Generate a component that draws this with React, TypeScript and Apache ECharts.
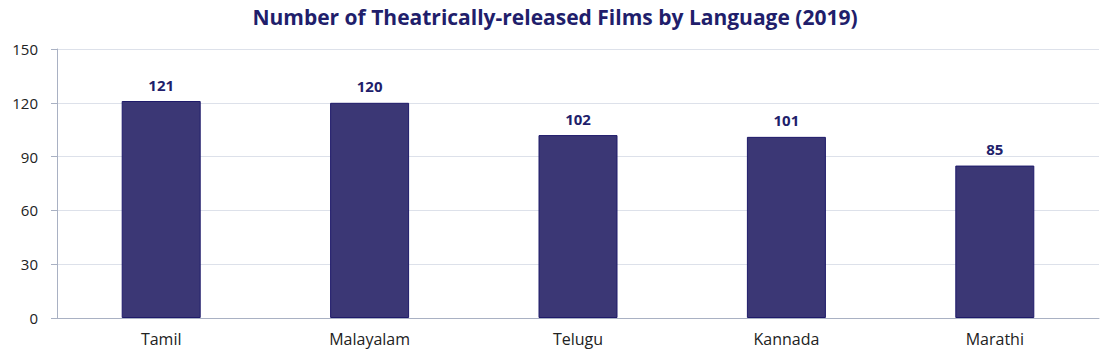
import React, { useEffect, useRef } from "react";
import * as echarts from "echarts";

const categories = ["Tamil", "Malayalam", "Telugu", "Kannada", "Marathi"];
const films = [121, 120, 102, 101, 85];
const yTicks = { min: 0, max: 150, interval: 30 };

export default function App() {
  const ref = useRef<HTMLDivElement>(null);
  useEffect(() => {
    const chart = echarts.init(ref.current!, null, { renderer: "svg" });
    const font = "'Open Sans', sans-serif";
    chart.setOption({
      animation: false,
      title: {
        text: "Number of Theatrically-released Films by Language (2019)",
        left: "center",
        top: 1,
        textStyle: { fontFamily: font, fontSize: 21, fontWeight: "bold", color: "#211e6b" },
      },
      grid: { left: 57, right: 11, top: 49, bottom: 43 },
      xAxis: {
        type: "category",
        data: categories,
        axisLine: { lineStyle: { color: "#a9b1c3" } },
        axisTick: { show: false },
        axisLabel: { fontFamily: font, fontSize: 16, color: "#222", margin: 13 },
      },
      yAxis: {
        type: "value",
        min: yTicks.min,
        max: yTicks.max,
        interval: yTicks.interval,
        axisLine: { show: true, lineStyle: { color: "#a9b1c3" } },
        axisTick: { show: true, length: 6, lineStyle: { color: "#a9b1c3" } },
        axisLabel: { fontFamily: font, fontSize: 15, color: "#222", margin: 19 },
        splitLine: { lineStyle: { color: "#dde1ea" } },
      },
      series: [
        {
          type: "bar",
          data: films,
          barWidth: 79,
          itemStyle: { color: "#3b3775", borderColor: "#1e1a6a", borderWidth: 1 },
          label: {
            show: true,
            position: "top",
            distance: 9,
            fontFamily: font,
            fontSize: 15,
            fontWeight: "bold",
            color: "#211e6b",
          },
        },
      ],
    });
    return () => chart.dispose();
  }, []);
  return <div ref={ref} style={{ width: 1110, height: 361, margin: -8 }} />;
}
